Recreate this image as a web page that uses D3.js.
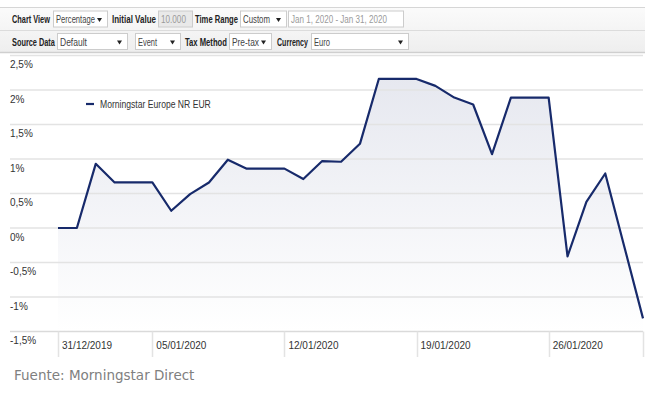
<!DOCTYPE html>
<html>
<head>
<meta charset="utf-8">
<script src="https://cdn.jsdelivr.net/npm/d3@7"></script>
<style>
  html, body { margin: 0; padding: 0; background: #fff; }
  svg { display: block; }
</style>
</head>
<body>
<script>

// series: Morningstar Europe NR EUR, cumulative return in %
const dates = [
  '2019-12-31', '2020-01-01', '2020-01-02', '2020-01-03', '2020-01-04', '2020-01-05',
  '2020-01-06', '2020-01-07', '2020-01-08', '2020-01-09', '2020-01-10', '2020-01-11',
  '2020-01-12', '2020-01-13', '2020-01-14', '2020-01-15', '2020-01-16', '2020-01-17',
  '2020-01-18', '2020-01-19', '2020-01-20', '2020-01-21', '2020-01-22', '2020-01-23',
  '2020-01-24', '2020-01-25', '2020-01-26', '2020-01-27', '2020-01-28', '2020-01-29',
  '2020-01-30', '2020-01-31'
];
const values = [
  0, 0, 0.93, 0.66, 0.66, 0.66,
  0.25, 0.49, 0.66, 0.99, 0.86, 0.86,
  0.86, 0.71, 0.97, 0.96, 1.22, 2.16,
  2.16, 2.16, 2.06, 1.89, 1.79, 1.07,
  1.89, 1.89, 1.89, -0.41, 0.38, 0.79,
  -0.26, -1.31
];
const seriesName = 'Morningstar Europe NR EUR';
const yTicks = [-1.5, -1, -0.5, 0, 0.5, 1, 1.5, 2, 2.5];
const xTicks = ['2019-12-31', '2020-01-05', '2020-01-12', '2020-01-19', '2020-01-26'];
const source = 'Fuente: Morningstar Direct';

const WIDTH = 654,
      HEIGHT = 394;

const parse = d3.timeParse('%Y-%m-%d');
const data = dates.map((d, i) => ({ date: parse(d), value: values[i] }));

const svg = d3.select('body').append('svg')
  .attr('width', WIDTH)
  .attr('height', HEIGHT)
  .style('font-family', '"Liberation Sans", Arial, sans-serif');

// the original uses a narrow UI font: squeeze a text horizontally to a given width
const squeeze = (sel, x, y, width) => {
  const natural = sel.node().getComputedTextLength();
  const k = Math.min(1, width / natural);
  sel.attr('x', null).attr('y', null)
    .attr('transform', `translate(${x}, ${y}) scale(${k}, 1)`);
};

// ---- toolbar on top ----
const defs = svg.append('defs');
const barGrad = defs.append('linearGradient')
  .attr('id', 'bar-grad').attr('x1', 0).attr('x2', 0).attr('y1', 0).attr('y2', 1);
barGrad.append('stop').attr('offset', '0%').attr('stop-color', '#fbfbfb');
barGrad.append('stop').attr('offset', '100%').attr('stop-color', '#eeeeee');

const bar = svg.append('g');
bar.append('rect').attr('x', 0).attr('y', 7).attr('width', 645).attr('height', 46)
  .attr('fill', 'url(#bar-grad)');
bar.append('line').attr('x1', 0).attr('x2', 645).attr('y1', 7.5).attr('y2', 7.5)
  .attr('stroke', '#d6d6d6');
bar.append('line').attr('x1', 0).attr('x2', 645).attr('y1', 30.5).attr('y2', 30.5)
  .attr('stroke', '#dcdcdc');
bar.append('line').attr('x1', 0).attr('x2', 645).attr('y1', 52.5).attr('y2', 52.5)
  .attr('stroke', '#cfcfcf').attr('stroke-width', 1.5);

// [kind, x, box width, text, text width, row]
const controls = [
  ['label', 12, 0, 'Chart View', 38, 0],
  ['select', 53, 54, 'Percentage', 39, 0],
  ['label', 112, 0, 'Initial Value', 44, 0],
  ['input-off', 158, 34, '10.000', 25, 0],
  ['label', 195, 0, 'Time Range', 43, 0],
  ['select', 240, 46, 'Custom', 27, 0],
  ['input', 288, 115, 'Jan 1, 2020 - Jan 31, 2020', 96, 0],
  ['label', 12, 0, 'Source Data', 43, 1],
  ['select', 57, 70, 'Default', 27, 1],
  ['select', 135, 45, 'Event', 19, 1],
  ['label', 185, 0, 'Tax Method', 42, 1],
  ['select', 229, 42, 'Pre-tax', 27, 1],
  ['label', 277, 0, 'Currency', 31, 1],
  ['select', 311, 97, 'Euro', 16, 1]
];
const rowY = [19.5, 42];

controls.forEach(([kind, x, w, txt, tw, row]) => {
  const cy = rowY[row];
  if (kind === 'label') {
    const t = bar.append('text').attr('dy', '0.35em')
      .style('font-weight', 'bold').style('font-size', '10px')
      .attr('fill', '#222').text(txt);
    squeeze(t, x, cy, tw);
    return;
  }
  bar.append('rect').attr('x', x + 0.5).attr('y', cy - 8.5).attr('width', w).attr('height', 16)
    .attr('fill', kind === 'input-off' ? '#e9e9e9' : '#fff')
    .attr('stroke', '#cccccc');
  const t = bar.append('text').attr('dy', '0.35em')
    .style('font-size', '10.5px')
    .attr('fill', kind === 'select' ? '#444' : '#9a9a9a').text(txt);
  squeeze(t, x + 3, cy, tw);
  if (kind === 'select') {
    bar.append('path')
      .attr('d', `M${x + w - 10},${cy - 1.5}h5l-2.5,4z`)
      .attr('fill', '#222');
  }
});

// ---- chart ----
const x = d3.scaleTime()
  .domain(d3.extent(data, (d) => d.date))
  .range([58, 643]);

const y = d3.scaleLinear()
  .domain([-1.5, 2.5])
  .range([331.5, 55.5]);

const areaGrad = defs.append('linearGradient')
  .attr('id', 'area-grad').attr('gradientUnits', 'userSpaceOnUse')
  .attr('x1', 0).attr('x2', 0).attr('y1', y(2.5)).attr('y2', y(-1.5));
areaGrad.append('stop').attr('offset', '0%').attr('stop-color', '#e4e6ee');
areaGrad.append('stop').attr('offset', '100%').attr('stop-color', '#ffffff');

svg.append('path')
  .datum(data)
  .attr('fill', 'url(#area-grad)')
  .attr('d', d3.area()
    .x((d) => x(d.date))
    .y0(y(-1.5))
    .y1((d) => y(d.value)));

// horizontal grid
const fmt = (v) => String(v).replace('.', ',') + '%';

const grid = svg.append('g');
grid.selectAll('line')
  .data(yTicks)
  .enter().append('line')
    .attr('x1', 10).attr('x2', 643)
    .attr('y1', (d) => y(d)).attr('y2', (d) => y(d))
    .attr('stroke', (d) => d === -1.5 ? '#dadada' : '#e3e3e3')
    .attr('stroke-width', 1.5);

grid.selectAll('text')
  .data(yTicks)
  .enter().append('text')
    .attr('x', 10)
    .attr('y', (d) => y(d) + 9)
    .attr('dy', '0.35em')
    .style('font-size', '10px')
    .attr('fill', '#333')
    .text(fmt);

// x axis: separators + labels
const xt = xTicks.map(parse);
const xa = svg.append('g');
xa.selectAll('line')
  .data(xt.concat([x.domain()[1]]))
  .enter().append('line')
    .attr('x1', (d) => Math.round(x(d)) + 0.5).attr('x2', (d) => Math.round(x(d)) + 0.5)
    .attr('y1', y(-1.5)).attr('y2', 357)
    .attr('stroke', '#e3e3e3').attr('stroke-width', 1.5);

xa.selectAll('text')
  .data(xt)
  .enter().append('text')
    .attr('x', (d) => x(d) + 4)
    .attr('y', 345)
    .attr('dy', '0.35em')
    .style('font-size', '10px')
    .attr('fill', '#333')
    .text(d3.timeFormat('%d/%m/%Y'));

// series line
svg.append('path')
  .datum(data)
  .attr('fill', 'none')
  .attr('stroke', '#172a6b')
  .attr('stroke-width', 2.2)
  .attr('stroke-linejoin', 'round')
  .attr('d', d3.line()
    .x((d) => x(d.date))
    .y((d) => y(d.value)));

// legend
const legend = svg.append('g').attr('transform', 'translate(86, 104)');
legend.append('line')
  .attr('x1', 0).attr('x2', 8)
  .attr('stroke', '#172a6b').attr('stroke-width', 2.2);
const legendText = legend.append('text')
  .attr('dy', '0.35em')
  .style('font-size', '11px')
  .attr('fill', '#333')
  .text(seriesName);
squeeze(legendText, 14, 0, 111);

// source
svg.append('text')
  .attr('x', 14).attr('y', 375).attr('dy', '0.35em')
  .style('font-family', '"DejaVu Sans", Verdana, sans-serif')
  .style('font-size', '13.5px')
  .attr('fill', '#808080')
  .text(source);

</script>
</body>
</html>
